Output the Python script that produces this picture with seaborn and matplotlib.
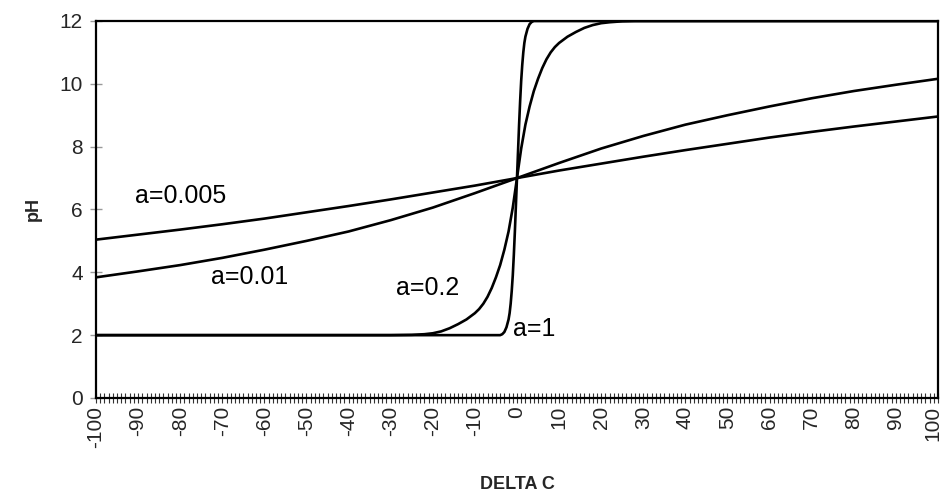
import numpy as np
import pandas as pd
import seaborn as sns
import matplotlib.pyplot as plt
from matplotlib.ticker import MultipleLocator
from matplotlib.transforms import ScaledTranslation

# -----------------------------
# Data
# -----------------------------
X_WIDE = [-100, -90, -80, -70, -60, -50, -40, -30, -20, -10, 0,
          10, 20, 30, 40, 50, 60, 70, 80, 90, 100]

PH_A0005 = [5.04, 5.20, 5.36, 5.53, 5.71, 5.91, 6.11, 6.32, 6.54, 6.76, 7.00,
            7.24, 7.46, 7.68, 7.89, 8.09, 8.29, 8.47, 8.64, 8.80, 8.96]

PH_A001 = [3.84, 4.03, 4.23, 4.46, 4.72, 5.00, 5.30, 5.66, 6.06, 6.52, 7.00,
           7.48, 7.94, 8.34, 8.70, 9.00, 9.28, 9.54, 9.77, 9.97, 10.16]

X_A02 = [-100, -30, -25, -22, -20, -18, -16, -14, -12, -10, -9, -8, -7, -6, -5,
         -4, -3, -2, -1, 0, 1, 2, 3, 4, 5, 6, 7, 8, 9, 10, 12, 14, 16, 18,
         20, 22, 25, 28, 100]
PH_A02 = [2.0, 2.0, 2.01, 2.03, 2.06, 2.12, 2.22, 2.35, 2.5, 2.7, 2.83, 3.0,
          3.22, 3.5, 3.84, 4.23, 4.72, 5.30, 6.06, 7.0, 7.94, 8.70, 9.28, 9.77,
          10.16, 10.5, 10.78, 11.0, 11.17, 11.3, 11.5, 11.65, 11.78, 11.87,
          11.93, 11.96, 11.99, 12.0, 12.0]

X_A1 = [-100, -4, -3.5, -3, -2.5, -2, -1.75, -1.5, -1.25, -1, -0.75, -0.5,
        -0.25, 0, 0.25, 0.5, 0.75, 1, 1.25, 1.5, 1.75, 2, 2.5, 3, 3.5, 4, 100]
PH_A1 = [2.0, 2.0, 2.03, 2.1, 2.25, 2.5, 2.7, 3.0, 3.4, 3.9, 4.55, 5.3,
         6.15, 7.0, 7.85, 8.7, 9.45, 10.1, 10.6, 11.0, 11.3, 11.5, 11.75,
         11.9, 11.97, 12.0, 12.0]

CURVE_LABELS = ["a=0.005", "a=0.01", "a=0.2", "a=1"]
# label anchor (x, pH) at text baseline, left aligned
LABEL_X = [-90.7, -72.7, -28.7, -0.9]
LABEL_Y = [6.21, 3.63, 3.28, 1.96]

X_TICKS = [-100, -90, -80, -70, -60, -50, -40, -30, -20, -10, 0,
           10, 20, 30, 40, 50, 60, 70, 80, 90, 100]
Y_TICKS = [0, 2, 4, 6, 8, 10, 12]

# -----------------------------
# Style
# -----------------------------
sns.set_theme(style="white")
plt.rcParams["font.family"] = ["Liberation Sans", "DejaVu Sans"]

frames = [
    pd.DataFrame({"dc": X_WIDE, "ph": PH_A0005, "curve": "a=0.005"}),
    pd.DataFrame({"dc": X_WIDE, "ph": PH_A001, "curve": "a=0.01"}),
    pd.DataFrame({"dc": X_A02, "ph": PH_A02, "curve": "a=0.2"}),
    pd.DataFrame({"dc": X_A1, "ph": PH_A1, "curve": "a=1"}),
]
df = pd.concat(frames, ignore_index=True)

fig = plt.figure(figsize=(9.44, 4.95), dpi=100)
ax = fig.add_axes([0.1017, 0.196, 0.8919, 0.7616])

sns.lineplot(
    data=df, x="dc", y="ph", hue="curve", units="curve",
    estimator=None, sort=False, palette=["black"] * 4,
    linewidth=1.9, legend=False, ax=ax,
)

for lab, lx, ly in zip(CURVE_LABELS, LABEL_X, LABEL_Y):
    ax.text(lx, ly, lab, ha="left", va="baseline", fontsize=18, color="black")

ax.set_xlim(-100, 100)
ax.set_ylim(0, 12)
ax.set_xticks(X_TICKS)
ax.set_xticklabels([str(t) for t in X_TICKS], rotation=90, fontsize=15)
ax.xaxis.set_minor_locator(MultipleLocator(1))
ax.set_yticks(Y_TICKS)
ax.set_yticklabels([str(t) for t in Y_TICKS], fontsize=15)

ax.tick_params(axis="x", which="both", direction="inout", length=7.5,
               width=0.8, color="#333333", pad=2, bottom=True)
ax.tick_params(axis="y", which="major", direction="inout", length=9,
               width=1.0, color="#999999", pad=5, left=True)

# last label sits on the figure edge; nudge it inward a little
last = ax.get_xticklabels()[-1]
last.set_transform(last.get_transform() + ScaledTranslation(-4 / 72, 0, fig.dpi_scale_trans))

for side in ["left", "bottom", "top", "right"]:
    ax.spines[side].set_color("black")
    ax.spines[side].set_linewidth(1.6)

ax.set_xlabel("DELTA C", fontsize=13, fontweight="bold", labelpad=20)
ax.set_ylabel("pH", fontsize=13, fontweight="bold", labelpad=13)
ax.grid(False)

fig.savefig("out.png", dpi=100)
